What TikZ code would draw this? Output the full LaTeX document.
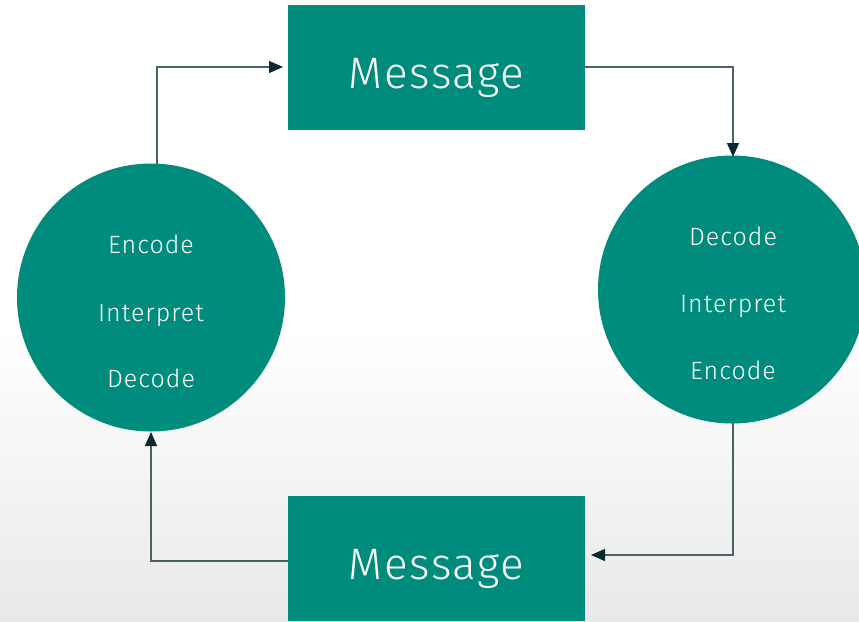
\documentclass[tikz,border=0pt]{standalone}
\usepackage{fontspec}
\setmainfont{Fira Sans Light}[LetterSpace=4]
\usetikzlibrary{arrows.meta}
\definecolor{teal1}{HTML}{008C7C}
\definecolor{arrowc}{HTML}{0B2A30}
\definecolor{linec}{HTML}{4D6166}
\definecolor{bgbot}{HTML}{E9E9E9}
\tikzset{
  msgbox/.style={fill=teal1, draw=none, minimum width=297pt, minimum height=125pt, inner sep=0pt, text=white, font=\fontsize{44}{48}\selectfont, text height=42pt, text depth=0pt},
  circ/.style={circle, fill=teal1, draw=none, minimum size=268pt, inner sep=0pt},
  lbl/.style={text=white, font=\fontsize{25}{28}\selectfont, inner sep=0pt, text height=18pt, text depth=0pt},
  conn/.style={draw=linec, line width=1.3pt, -{Triangle[length=14pt,width=12pt,color=arrowc]}}
}
\begin{document}
\begin{tikzpicture}[x=1pt,y=-1pt]
\useasboundingbox (0,0) rectangle (859,621);
\fill[white] (0,0) rectangle (859,330);
\shade[top color=white, bottom color=bgbot] (0,330) rectangle (859,621);
\node[msgbox] (top) at (436.5,67) {Message};
\node[msgbox] (bot) at (436.5,558.5) {Message};
\node[circ] (lc) at (151,297.5) {};
\node[circ] (rc) at (732,289.5) {};
\node[lbl] (l1) at (151,244) {Encode};
\node[lbl] (l2) at (151,312) {Interpret};
\node[lbl] (l3) at (151,378) {Decode};
\node[lbl] (r1) at (733,236) {Decode};
\node[lbl] (r2) at (733,303) {Interpret};
\node[lbl] (r3) at (733,370) {Encode};
\coordinate (a1) at (157,164);
\coordinate (a2) at (283,67);
\draw[conn] (a1) |- (a2);
\coordinate (b1) at (733,157);
\draw[conn] (top.east) -| (b1);
\coordinate (c1) at (733,423);
\coordinate (c2) at (591,555);
\draw[conn] (c1) |- (c2);
\coordinate (d1) at (151,432);
\draw[conn] (bot.west |- 0,561) -| (d1);
\end{tikzpicture}
\end{document}
